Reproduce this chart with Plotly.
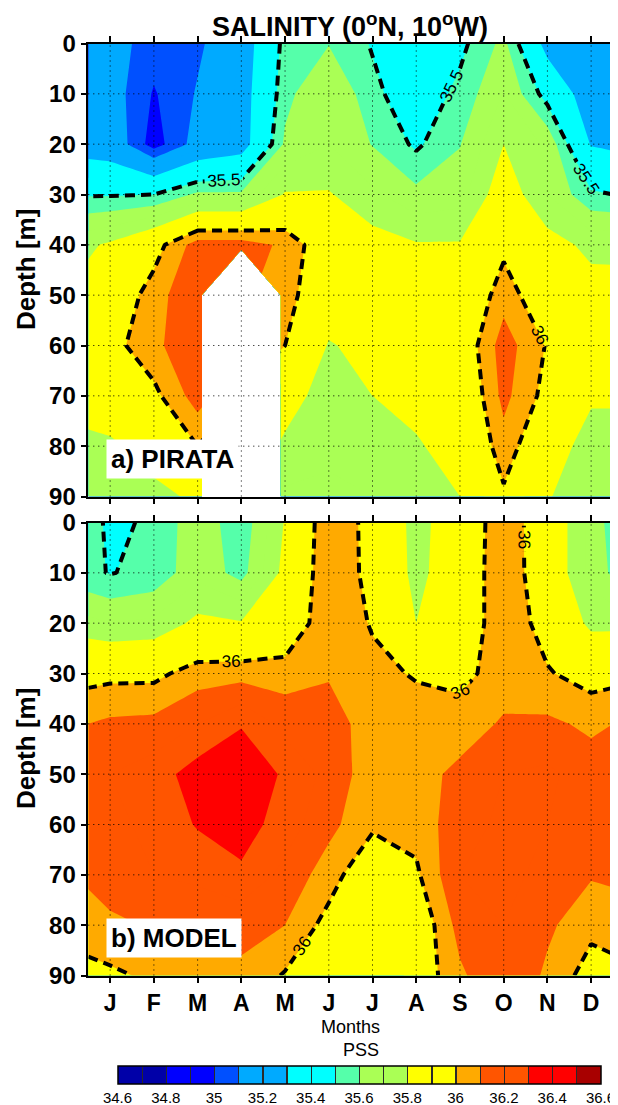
import plotly.graph_objects as go

# ---------------- data ----------------
months = ["J", "F", "M", "A", "M", "J", "J", "A", "S", "O", "N", "D"]
month_pos = [1, 2, 3, 4, 5, 6, 7, 8, 9, 10, 11, 12]
x_nodes = [0.5, 1, 2, 3, 4, 5, 6, 7, 8, 9, 10, 11, 12, 12.5]
depths = [0, 10, 20, 30, 40, 50, 60, 70, 80, 90]
depth_ticks = [0, 10, 20, 30, 40, 50, 60, 70, 80, 90]
cbar_ticks = [34.6, 34.8, 35.0, 35.2, 35.4, 35.6, 35.8, 36.0, 36.2, 36.4, 36.6]
cbar_text = ["34.6", "34.8", "35", "35.2", "35.4", "35.6", "35.8", "36", "36.2", "36.4", "36.6"]

# PIRATA salinity (rows = depth, cols = x_nodes); None = missing
pirata = [
    [35.20, 35.15, 35.05, 35.08, 35.20, 35.54, 35.595, 35.49, 35.38, 35.47, 35.63, 35.24, 35.20, 35.20],
    [35.20, 35.16, 34.99, 35.11, 35.22, 35.566, 35.71, 35.53, 35.42, 35.53, 35.705, 35.45, 35.20, 35.20],
    [35.22, 35.20, 34.95, 35.15, 35.22, 35.62, 35.70, 35.595, 35.48, 35.595, 35.80, 35.68, 35.29, 35.27],
    [35.49, 35.49, 35.50, 35.62, 35.62, 35.81, 35.81, 35.72, 35.63, 35.66, 35.88, 35.70, 35.52, 35.50],
    [35.78, 35.82, 35.95, 36.15, 36.15, 36.08, 35.90, 35.85, 35.81, 35.81, 35.97, 35.85, 35.77, 35.78],
    [35.85, 35.90, 36.05, 36.20, None, 36.05, 35.88, 35.86, 35.85, 35.86, 36.06, 35.90, 35.85, 35.83],
    [35.86, 35.96, 36.07, 36.20, None, 36.00, 35.79, 35.84, 35.88, 35.90, 36.15, 35.99, 35.88, 35.86],
    [35.84, 35.88, 35.97, 36.15, None, 35.85, 35.75, 35.80, 35.83, 35.86, 36.13, 35.96, 35.82, 35.82],
    [35.78, 35.78, 35.85, 36.00, None, 35.78, 35.72, 35.75, 35.79, 35.84, 36.06, 35.88, 35.74, 35.74],
    [35.70, 35.72, 35.77, 35.82, None, 35.68, 35.68, 35.70, 35.75, 35.80, 35.98, 35.81, 35.72, 35.70],
]

# MODEL salinity
model = [
    [35.54, 35.48, 35.515, 35.672, 35.53, 35.81, 36.09, 35.956, 35.753, 35.893, 36.077, 35.91, 35.67, 35.553],
    [35.52, 35.495, 35.53, 35.67, 35.56, 35.84, 36.09, 35.96, 35.76, 35.90, 36.08, 35.91, 35.67, 35.58],
    [35.73, 35.70, 35.72, 35.83, 35.81, 35.90, 36.08, 35.99, 35.80, 35.90, 36.08, 35.95, 35.77, 35.77],
    [35.96, 35.97, 35.97, 36.05, 36.06, 36.05, 36.09, 36.03, 35.99, 35.96, 36.06, 36.01, 35.95, 35.96],
    [36.10, 36.12, 36.13, 36.20, 36.29, 36.17, 36.15, 36.05, 36.05, 36.06, 36.11, 36.12, 36.08, 36.10],
    [36.15, 36.20, 36.25, 36.35, 36.40, 36.28, 36.17, 36.04, 36.07, 36.12, 36.20, 36.22, 36.15, 36.15],
    [36.13, 36.18, 36.22, 36.31, 36.35, 36.25, 36.13, 36.02, 36.04, 36.16, 36.22, 36.20, 36.15, 36.14],
    [36.12, 36.15, 36.20, 36.22, 36.28, 36.17, 36.05, 35.90, 35.98, 36.20, 36.22, 36.18, 36.11, 36.12],
    [36.05, 36.08, 36.11, 36.13, 36.13, 36.10, 35.96, 35.85, 35.90, 36.14, 36.20, 36.12, 36.03, 36.04],
    [35.97, 35.98, 36.02, 36.06, 36.08, 35.99, 35.90, 35.85, 35.92, 36.08, 36.20, 36.08, 35.95, 35.97],
]

# one colour per 0.1 PSS band, 34.6 ... 36.6
band_colors = ["#0000A8", "#0000A8", "#0000FF", "#0000FF", "#0050FF", "#00AAFF", "#00AAFF",
               "#00FFFF", "#00FFFF", "#55FFAA", "#AAFF55", "#AAFF55", "#FFFF00", "#FFFF00",
               "#FFAA00", "#FF5500", "#FF5500", "#FF0000", "#FF0000", "#A80000"]
cb_min, cb_max = 34.6, 36.6

# ---------------- colour scale for the filled contours ----------------
# contour levels 34.7 ... 36.5 -> 20 fill regions (incl. the two outer ones)
lev_start, lev_end, lev_size = 34.7, 36.5, 0.1
nreg = len(band_colors)
cscale = []
for k, c in enumerate(band_colors):
    lo = max(0.0, (k - 0.5) / (nreg - 1))
    hi = min(1.0, (k + 0.5) / (nreg - 1))
    cscale.append([lo, c])
    cscale.append([hi, c])

# colour scale for the colour bar: steps with thin dark separators
e = 0.0013
sep = "#2a2a2a"
cb_scale = []
for k, c in enumerate(band_colors):
    lo = k / nreg + (e if k > 0 else 0.0)
    hi = (k + 1) / nreg - (e if k < nreg - 1 else 0.0)
    cb_scale.append([lo, c])
    cb_scale.append([hi, c])
    if k < nreg - 1:
        cb_scale.append([hi, sep])
        cb_scale.append([(k + 1) / nreg + e, sep])

FONT = "Liberation Sans"
# the page body has an 8px margin; the figure is sized/positioned to compensate
OFF = 8
W, H = 618 - OFF, 1105 - OFF


def px(v):
    return v - OFF


fig = go.Figure()

panels = [("x", "y", pirata), ("x2", "y2", model)]
for xa, ya, z in panels:
    fig.add_trace(go.Contour(
        x=x_nodes, y=depths, z=z, xaxis=xa, yaxis=ya,
        autocontour=False,
        contours=dict(start=lev_start, end=lev_end, size=lev_size,
                      coloring="fill", showlines=False),
        colorscale=cscale, line=dict(width=0, smoothing=0),
        connectgaps=False, showscale=False, hoverinfo="skip",
    ))
    fig.add_trace(go.Contour(
        x=x_nodes, y=depths, z=z, xaxis=xa, yaxis=ya,
        autocontour=False,
        contours=dict(start=35.5, end=36.0, size=0.5, coloring="none",
                      showlabels=True,
                      labelfont=dict(family=FONT, size=17, color="black")),
        line=dict(color="black", width=4, dash="10px,6px", smoothing=0),
        connectgaps=False, showscale=False, hoverinfo="skip",
    ))

# colour bar (PSS) carried by an empty marker trace
fig.add_trace(go.Scatter(
    x=[None], y=[None], mode="markers", xaxis="x2", yaxis="y2", hoverinfo="skip",
    marker=dict(color=[cb_min], cmin=cb_min, cmax=cb_max, colorscale=cb_scale,
                showscale=True,
                colorbar=dict(orientation="h", x=px(117.5) / W, xanchor="left",
                              y=1 - px(1066) / H, yanchor="top",
                              lenmode="pixels", len=482.5, thickness=18,
                              outlinewidth=1.5, outlinecolor="black",
                              tickvals=cbar_ticks, ticktext=cbar_text, ticks="", ticklen=0,
                              tickfont=dict(family=FONT, size=15, color="black"),
                              xpad=0, ypad=0)),
))

# ---------------- layout ----------------
x_dom = [px(88.3) / W, px(613) / W]
ya_dom = [1 - px(496.5) / H, 1 - px(43.5) / H]
yb_dom = [1 - px(975.5) / H, 1 - px(522.5) / H]

axis_common = dict(showline=True, linecolor="black", linewidth=1.5, mirror="ticks",
                   ticks="outside", ticklen=6, tickwidth=1.5, tickcolor="black",
                   showgrid=False, zeroline=False, automargin=False)
ytickfont = dict(family=FONT, size=24, color="black", weight="bold")
xtickfont = dict(family=FONT, size=23, color="black", weight="bold")

fig.update_layout(
    width=W, height=H, margin=dict(l=0, r=0, t=0, b=0, autoexpand=False),
    paper_bgcolor="white", plot_bgcolor="white",
    showlegend=False,
    xaxis=dict(domain=x_dom, range=[0.5, 12.5], anchor="y", tickvals=month_pos,
               showticklabels=False, **axis_common),
    yaxis=dict(domain=ya_dom, range=[90, 0], anchor="x", tickvals=depth_ticks,
               tickfont=ytickfont, **axis_common),
    xaxis2=dict(domain=x_dom, range=[0.5, 12.5], anchor="y2", tickvals=month_pos,
                ticktext=months, tickfont=xtickfont, **axis_common),
    yaxis2=dict(domain=yb_dom, range=[90, 0], anchor="x2", tickvals=depth_ticks,
                tickfont=ytickfont, **axis_common),
    title=dict(text="SALINITY (0<sup>o</sup>N, 10<sup>o</sup>W)",
               x=px(350) / W, xanchor="center", y=1 - px(27) / H, yanchor="middle",
               font=dict(family=FONT, size=27, color="black", weight="bold")),
)

# dotted grid drawn above the fills (positions from the tick lists)
shapes = []
for xr, yr in [("x", "y"), ("x2", "y2")]:
    for m in month_pos:
        shapes.append(dict(type="line", xref=xr, yref=yr + " domain", x0=m, x1=m, y0=0, y1=1,
                           line=dict(color="black", width=1, dash="1px,4px"), layer="above"))
    for d in depth_ticks[1:-1]:
        shapes.append(dict(type="line", xref=xr + " domain", yref=yr, x0=0, x1=1, y0=d, y1=d,
                           line=dict(color="black", width=1, dash="1px,4px"), layer="above"))
fig.update_layout(shapes=shapes)

ann = []
for xr, yr, lab in [("x", "y", "a) PIRATA"), ("x2", "y2", "b) MODEL")]:
    ann.append(dict(text=lab, xref=xr + " domain", yref=yr + " domain",
                    x=0.0337, y=0.082, xanchor="left", yanchor="middle", showarrow=False,
                    bgcolor="white", borderpad=4,
                    font=dict(family=FONT, size=26, color="black", weight="bold")))
    ann.append(dict(text="Depth [m]", xref="paper", yref=yr + " domain",
                    x=px(26) / W, y=0.5, xanchor="center", yanchor="middle", textangle=-90,
                    showarrow=False,
                    font=dict(family=FONT, size=26, color="black", weight="bold")))
ann.append(dict(text="Months", xref="paper", yref="paper", x=px(350) / W, y=1 - px(1027) / H,
                xanchor="center", yanchor="middle", showarrow=False,
                font=dict(family=FONT, size=18, color="black")))
ann.append(dict(text="PSS", xref="paper", yref="paper", x=px(360.6) / W, y=1 - px(1050) / H,
                xanchor="center", yanchor="middle", showarrow=False,
                font=dict(family=FONT, size=18, color="black")))
fig.update_layout(annotations=ann)

fig.write_html("out.html")
